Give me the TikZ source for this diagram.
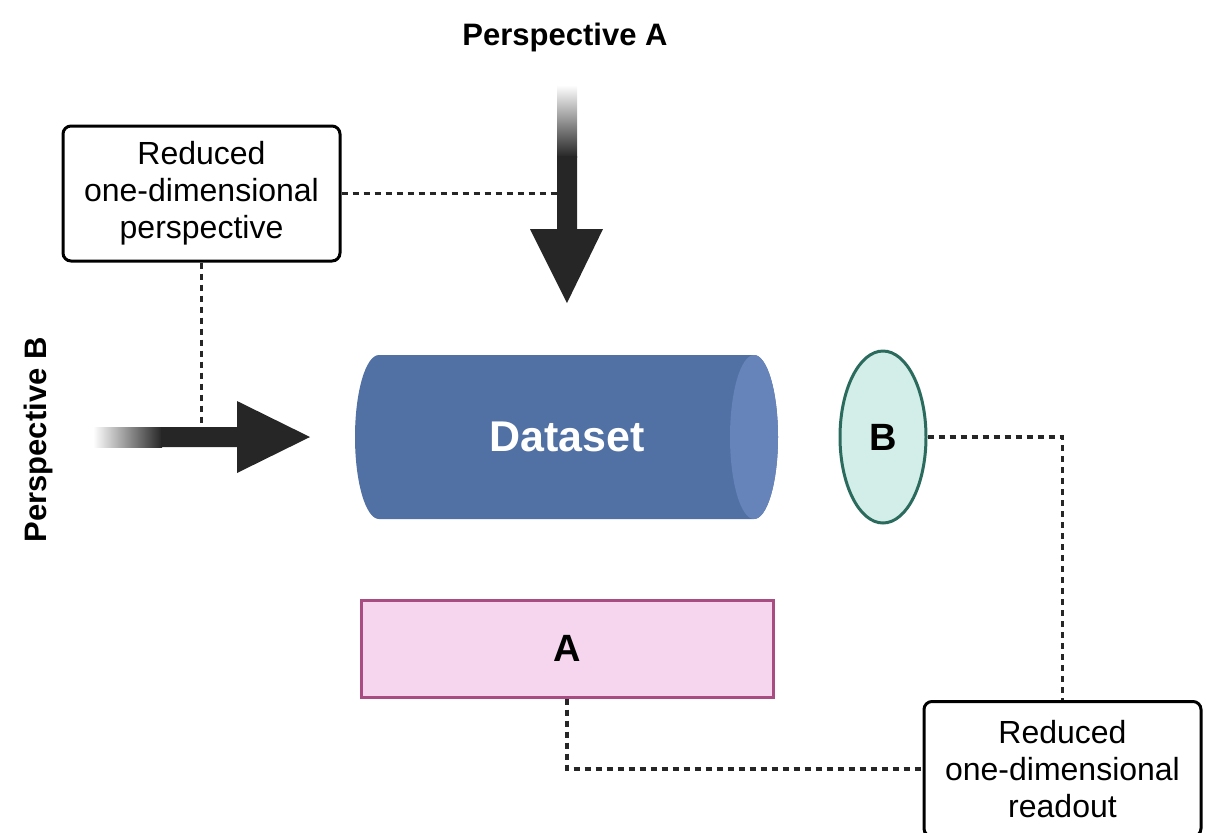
\documentclass[tikz,border=0pt]{standalone}
\usepackage{fontspec}
\setmainfont{Liberation Sans}
\usetikzlibrary{positioning,calc,shapes.geometric}
\definecolor{arrdark}{HTML}{262626}
\definecolor{dsbody}{HTML}{5170A3}
\definecolor{dscap}{HTML}{6683BA}
\definecolor{bfill}{HTML}{D3EDE8}
\definecolor{bdraw}{HTML}{2B6B5E}
\definecolor{afill}{HTML}{F6D5EE}
\definecolor{adraw}{HTML}{A84C82}
\begin{document}
\begin{tikzpicture}[
  x=0.5pt,y=0.5pt,
  note/.style={draw=black,line width=1.5pt,rounded corners=4pt,fill=white,align=center,
    font=\fontsize{16}{18.5}\selectfont,minimum width=138.5pt,minimum height=67.5pt,inner sep=0pt},
  dots/.style={draw=arrdark,line width=1.7pt,dash pattern=on 3pt off 2.5pt},
  title/.style={font=\fontsize{15.5}{18}\selectfont\bfseries}
]
\useasboundingbox (0,0) rectangle (1206,-832);

% Perspective labels
\node[title] (perA) at (565,-37) {Perspective A};
\node[title,rotate=90] (perB) at (38,-440) {Perspective B};

% Arrow reference points
\coordinate (tailA) at (567,-85);
\coordinate (tipA) at (567,-303);
\coordinate (tailB) at (93,-437);
\coordinate (tipB) at (310,-437);

% Dataset cylinder
\fill[dsbody] (754,-355) -- (379,-355) arc[start angle=90,end angle=270,x radius=24,y radius=82]
  -- (754,-519) arc[start angle=-90,end angle=90,x radius=24,y radius=82] -- cycle;
\fill[dscap] (754,-437) ellipse[x radius=24,y radius=82];
\node[font=\fontsize{21.5}{25}\selectfont\bfseries,text=white] (dataset) at (567,-437) {Dataset};

% Readouts
\node[ellipse,draw=bdraw,fill=bfill,line width=1.5pt,minimum width=43pt,minimum height=86pt,inner sep=0pt,
  font=\fontsize{19}{22}\selectfont\bfseries] (ellB) at (883,-437) {B};
\node[draw=adraw,fill=afill,line width=1.5pt,minimum width=206pt,minimum height=48.5pt,inner sep=0pt,
  font=\fontsize{19}{22}\selectfont\bfseries] (boxA) at (567,-648.5) {A};

% Notes
\node[note] (redP) at (201.5,-193.5) {Reduced\\one-dimensional\\perspective};
\node[note] (redR) at (1062.5,-769) {Reduced\\one-dimensional\\readout};

% Dotted links
\draw[dots] (redP.east) -- (redP.east -| tipA);
\draw[dots] (redP.south) -- (redP.south |- tipB);
\draw[dots] (ellB.east) -| (redR.north);
\draw[dots] (boxA.south) |- (redR.west);

% Perspective A arrow
\shade[top color=white,bottom color=arrdark] ($(tailA)+(-10,0)$) rectangle ($(tailA)+(10,-72)$);
\fill[arrdark] ($(tailA)+(-10,-71)$) -- ($(tipA)+(-10,74)$) -- ($(tipA)+(-37,74)$) -- (tipA)
  -- ($(tipA)+(36,74)$) -- ($(tipA)+(10,74)$) -- ($(tailA)+(10,-71)$) -- cycle;

% Perspective B arrow
\shade[left color=white,right color=arrdark] ($(tailB)+(0,10)$) rectangle ($(tailB)+(69,-10)$);
\fill[arrdark] ($(tailB)+(68,10)$) -- ($(tipB)+(-73,10)$) -- ($(tipB)+(-73,36)$) -- (tipB)
  -- ($(tipB)+(-73,-36)$) -- ($(tipB)+(-73,-10)$) -- ($(tailB)+(68,-10)$) -- cycle;
\end{tikzpicture}
\end{document}
